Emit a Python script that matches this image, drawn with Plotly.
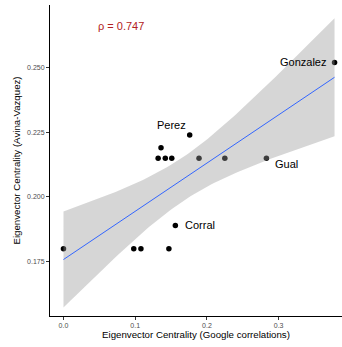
import numpy as np
import plotly.graph_objects as go

# Eigenvector centrality under two network constructions
google_centrality = [0.000, 0.098, 0.108, 0.147, 0.156, 0.132, 0.142, 0.151,
                     0.136, 0.176, 0.189, 0.225, 0.283, 0.378]
avina_centrality = [0.180, 0.180, 0.180, 0.180, 0.189, 0.215, 0.215, 0.215,
                    0.219, 0.224, 0.215, 0.215, 0.215, 0.252]
names = ["", "", "", "", "Corral", "", "", "",
         "", "Perez", "", "", "Gual", "Gonzalez"]
rho_text = "ρ = 0.747"

x = np.array(google_centrality)
y = np.array(avina_centrality)

# Linear fit with 95% confidence band
n = len(x)
slope, intercept = np.polyfit(x, y, 1)
resid = y - (intercept + slope * x)
s = np.sqrt(np.sum(resid ** 2) / (n - 2))
t_crit = 2.178813  # t(0.975, df=12)
xs = np.linspace(x.min(), x.max(), 80)
fit = intercept + slope * xs
se = s * np.sqrt(1.0 / n + (xs - x.mean()) ** 2 / np.sum((x - x.mean()) ** 2))
upper = fit + t_crit * se
lower = fit - t_crit * se

fig = go.Figure()
fig.add_trace(go.Scatter(x=x, y=y, mode="markers",
                         marker=dict(color="black", size=5.5), hoverinfo="skip"))
fig.add_trace(go.Scatter(x=np.concatenate([xs, xs[::-1]]),
                         y=np.concatenate([upper, lower[::-1]]),
                         fill="toself", fillcolor="rgba(153,153,153,0.4)",
                         line=dict(width=0), mode="lines", hoverinfo="skip"))
fig.add_trace(go.Scatter(x=xs, y=fit, mode="lines",
                         line=dict(color="#3366FF", width=1), hoverinfo="skip"))

# Name labels placed beside their points
offsets = {"Gonzalez": ("right", -7, 0), "Perez": ("center", -18, 10),
           "Corral": ("left", 8, 0), "Gual": ("left", 7, -6)}
for xi, yi, nm in zip(x, y, names):
    if not nm:
        continue
    anchor, dx, dy = offsets[nm]
    fig.add_annotation(x=xi, y=yi, text=nm, showarrow=False,
                       xanchor=anchor, yanchor="middle", xshift=dx, yshift=dy,
                       font=dict(family="Liberation Sans, Arial", size=11, color="black"))

fig.add_annotation(x=0.080, y=0.2661, text=rho_text, showarrow=False,
                   xanchor="center", yanchor="middle",
                   font=dict(family="Liberation Sans, Arial", size=11, color="#B22222"))

axis_common = dict(showline=True, linecolor="black", linewidth=1, ticks="outside",
                   ticklen=3, tickcolor="#333333", showgrid=False, zeroline=False,
                   tickfont=dict(family="Liberation Sans, Arial", size=7, color="#4D4D4D"),
                   title_font=dict(family="Liberation Sans, Arial", size=9.7, color="black"))

fig.update_layout(
    width=342, height=347,
    margin=dict(l=50, r=0, t=5, b=31),
    paper_bgcolor="white", plot_bgcolor="white",
    showlegend=False,
    xaxis=dict(range=[-0.0188, 0.3884], tickvals=[0.0, 0.1, 0.2, 0.3],
               ticktext=["0.0", "0.1", "0.2", "0.3"],
               title=dict(text="Eigenvector Centrality (Google correlations)", standoff=2),
               **axis_common),
    yaxis=dict(range=[0.154, 0.2742], tickvals=[0.175, 0.200, 0.225, 0.250],
               ticktext=["0.175", "0.200", "0.225", "0.250"],
               title=dict(text="Eigenvector Centrality (Avina-Vazquez)", standoff=4),
               **axis_common),
)

fig.write_html("out.html")
